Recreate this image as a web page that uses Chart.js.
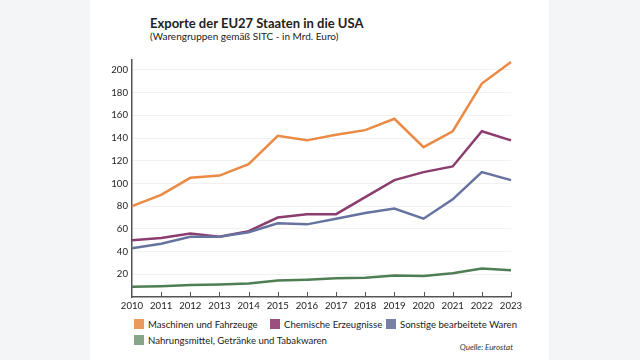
<!DOCTYPE html>
<html>
<head>
<meta charset="utf-8">
<script src="https://cdn.jsdelivr.net/npm/chart.js@4/dist/chart.umd.min.js"></script>
<style>
  body { margin: 0; width: 640px; height: 360px; background: #f4f5f7; position: relative; overflow: hidden; font-family: Lato, sans-serif; color: #222; }
  .panel { position: absolute; left: 90px; top: 0; width: 459px; height: 360px; background: #fff; }
  .title { position: absolute; left: 150px; top: 15px; font-size: 13px; font-weight: bold; }
  .subtitle { position: absolute; left: 150px; top: 30px; font-size: 10px; }
  #wrap { position: absolute; left: 90px; top: 50px; width: 440px; height: 265px; }
  .legend { position: absolute; font-size: 9.6px; line-height: 12px; }
  .legend span.box { display: inline-block; width: 10px; height: 10px; vertical-align: -1px; margin-right: 4px; }
  .source { position: absolute; right: 127px; top: 342px; font-size: 8px; font-style: italic; color: #333; }
</style>
</head>
<body>
<div class="panel"></div>
<div class="title">Exporte der EU27 Staaten in die USA</div>
<div class="subtitle">(Warengruppen gemäß SITC - in Mrd. Euro)</div>
<div id="wrap"><canvas id="myChart"></canvas></div>
<div class="legend" style="left:134px;top:319px"><span class="box" style="background:#eb9a5f"></span>Maschinen und Fahrzeuge</div>
<div class="legend" style="left:270px;top:319px"><span class="box" style="background:#9a4f7f"></span>Chemische Erzeugnisse</div>
<div class="legend" style="left:386px;top:319px"><span class="box" style="background:#7980a6"></span>Sonstige bearbeitete Waren</div>
<div class="legend" style="left:134px;top:335px"><span class="box" style="background:#86a689"></span>Nahrungsmittel, Getränke und Tabakwaren</div>
<div class="source">Quelle: Eurostat</div>
<script>
const years = ['2010', '2011', '2012', '2013', '2014', '2015', '2016', '2017', '2018', '2019', '2020', '2021', '2022', '2023'];
const maschinen = [80, 90, 105, 107, 117, 142, 138, 143, 147, 157, 132, 146, 188, 207];
const chemie = [50, 52, 56, 53, 58, 70, 73, 73, 88, 103, 110, 115, 146, 138];
const sonstige = [43, 47, 53, 53, 57, 65, 64, 69, 74, 78, 69, 86, 110, 103];
const nahrung = [9, 9.5, 10.5, 11, 12, 14.5, 15.3, 16.5, 17, 19, 18.5, 21, 25, 23.5];
const yTicks = [20, 40, 60, 80, 100, 120, 140, 160, 180, 200];

// small tick marks pointing up into the plot
const upTicks = {
  id: 'upTicks',
  afterDraw(chart) {
    const x = chart.scales.x, ctx = chart.ctx, bottom = chart.chartArea.bottom;
    ctx.save();
    ctx.strokeStyle = '#555';
    ctx.lineWidth = 1;
    x.ticks.forEach((t, i) => {
      if (i === 0) return;
      const px = Math.round(x.getPixelForTick(i)) + 0.5;
      ctx.beginPath();
      ctx.moveTo(px, bottom);
      ctx.lineTo(px, bottom - 5);
      ctx.stroke();
    });
    ctx.restore();
  }
};

const line = (data, color) => ({
  data: data,
  borderColor: color,
  borderWidth: 2.5,
  pointRadius: 0,
  tension: 0,
  fill: false
});

new Chart(document.getElementById('myChart'), {
  type: 'line',
  data: {
    labels: years,
    datasets: [
      line(nahrung, '#4f7e55'),
      line(sonstige, '#67739f'),
      line(chemie, '#8c3d6f'),
      line(maschinen, '#ea8a44')
    ]
  },
  options: {
    responsive: true,
    maintainAspectRatio: false,
    animation: false,
    layout: { padding: { top: 5, right: 19, left: 0, bottom: 0 } },
    plugins: { legend: { display: false }, tooltip: { enabled: false } },
    scales: {
      x: {
        offset: false,
        grid: { display: false, drawTicks: false, tickLength: 0 },
        border: { display: true, color: '#555', width: 1.5 },
        ticks: { color: '#222', font: { family: 'Lato', size: 9.6 }, padding: 3, maxRotation: 0, autoSkip: false },
        afterFit: (s) => { s.height = 18; }
      },
      y: {
        min: 0,
        max: 209,
        afterBuildTicks: (s) => { s.ticks = yTicks.map(v => ({ value: v })); },
        grid: { color: '#f1f1f1', drawTicks: false },
        border: { display: true, color: '#555', width: 1.5 },
        ticks: { color: '#222', font: { family: 'Lato', size: 9.6 }, padding: 4 },
        afterFit: (s) => { s.width = 42; }
      }
    }
  },
  plugins: [upTicks]
});
</script>
</body>
</html>
